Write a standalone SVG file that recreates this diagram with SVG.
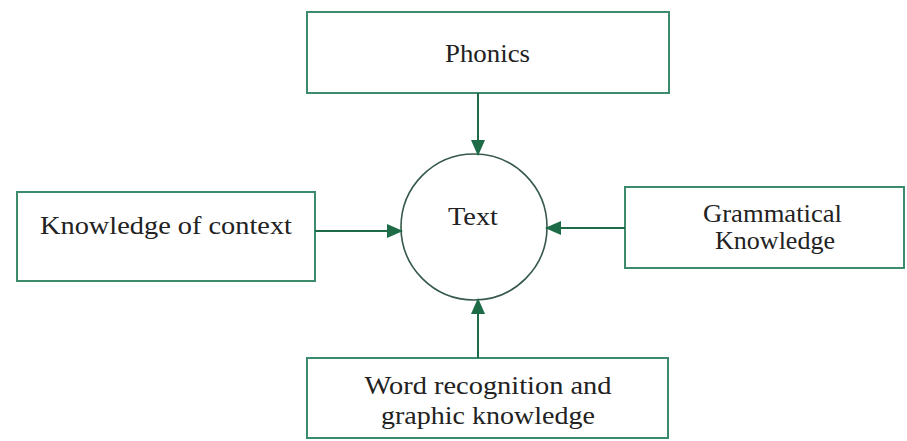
<svg xmlns="http://www.w3.org/2000/svg" width="907" height="441" viewBox="0 0 907 441">
<defs>
<marker id="ah" markerWidth="16" markerHeight="14" refX="15" refY="7" orient="auto" markerUnits="userSpaceOnUse">
<path d="M0,0 L16,7 L0,14 Z" fill="#1d6b47"/>
</marker>
<style>
.box{fill:#ffffff;stroke:#3d8b6d;stroke-width:2}
.circ{fill:#ffffff;stroke:#35594a;stroke-width:1.6}
.lbl{font-family:"Liberation Serif","Times New Roman",Times,serif;font-size:26px;fill:#222222;text-anchor:middle}
.conn{stroke:#1d6b47;stroke-width:2;fill:none}
</style>
</defs>
<rect width="907" height="441" fill="#ffffff"/>
<g id="phonics">
<rect class="box" x="307" y="12" width="362" height="81"/>
<text class="lbl" x="487.5" y="62" textLength="85" lengthAdjust="spacingAndGlyphs">Phonics</text>
</g>
<g id="context">
<rect class="box" x="17" y="192" width="298" height="89"/>
<text class="lbl" x="166" y="234" textLength="252" lengthAdjust="spacingAndGlyphs">Knowledge of context</text>
</g>
<g id="grammar">
<rect class="box" x="625" y="187" width="279" height="81"/>
<text class="lbl" x="772.5" y="222" textLength="139" lengthAdjust="spacingAndGlyphs">Grammatical</text>
<text class="lbl" x="775" y="249" textLength="120" lengthAdjust="spacingAndGlyphs">Knowledge</text>
</g>
<g id="word">
<rect class="box" x="307" y="358" width="361" height="80"/>
<text class="lbl" x="488" y="394" textLength="247" lengthAdjust="spacingAndGlyphs">Word recognition and</text>
<text class="lbl" x="488" y="424" textLength="214" lengthAdjust="spacingAndGlyphs">graphic knowledge</text>
</g>
<g id="text">
<circle class="circ" cx="474" cy="227" r="73"/>
<text class="lbl" x="473" y="225" textLength="50" lengthAdjust="spacingAndGlyphs">Text</text>
</g>
<g id="connectors">
<line class="conn" x1="478" y1="93" x2="478" y2="155" marker-end="url(#ah)"/>
<line class="conn" x1="315" y1="231" x2="402" y2="231" marker-end="url(#ah)"/>
<line class="conn" x1="625" y1="228" x2="546" y2="228" marker-end="url(#ah)"/>
<line class="conn" x1="478" y1="358" x2="478" y2="299" marker-end="url(#ah)"/>
</g>
</svg>
